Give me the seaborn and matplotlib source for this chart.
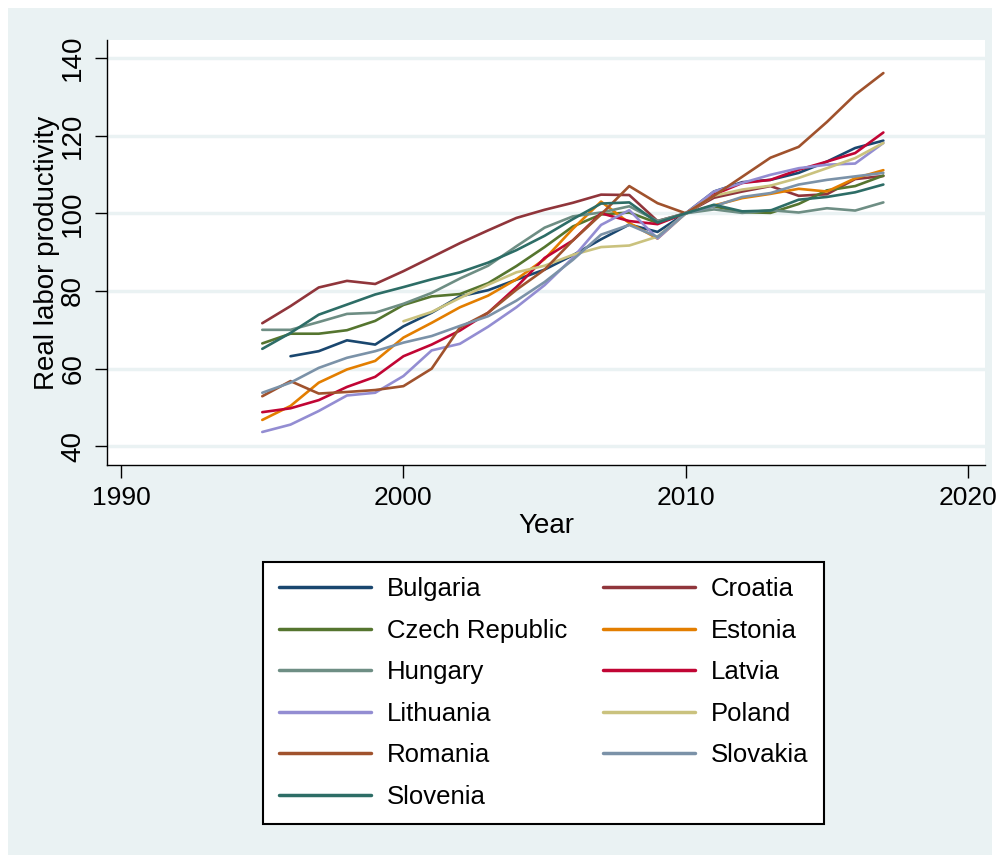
import numpy as np
import pandas as pd
import seaborn as sns
import matplotlib.pyplot as plt
from matplotlib.patches import Rectangle

nan = np.nan
years = list(range(1995, 2018))

bulgaria = [nan, 63.2, 64.5, 67.3, 66.2, 70.9, 74.4, 78.6, 80.2, 82.9, 85.5, 89.2,
            93.3, 97.1, 95.2, 100, 105.6, 108.0, 108.6, 110.4, 113.3, 116.8, 118.7]
croatia = [71.7, 76.1, 80.9, 82.6, 81.8, 85.1, 88.7, 92.3, 95.6, 98.8, 100.9, 102.7,
           104.8, 104.7, 98.0, 100, 104.0, 105.6, 107.0, 104.5, 104.9, 108.8, 109.6]
czech = [66.5, 69.0, 69.0, 69.9, 72.3, 76.4, 78.6, 79.2, 82.0, 86.4, 91.3, 96.6,
         99.7, 100.2, 97.5, 100, 101.8, 100.3, 100.1, 102.4, 105.9, 107.0, 109.7]
estonia = [46.8, 50.4, 56.4, 59.8, 62.0, 68.0, 71.8, 75.8, 78.8, 83.0, 88.2, 96.0,
           103.0, 97.5, 93.5, 100, 102.0, 103.9, 105.0, 106.3, 105.6, 109.0, 111.1]
hungary = [70.0, 70.0, 72.0, 74.1, 74.4, 76.7, 79.5, 83.2, 86.5, 91.5, 96.3, 99.2,
           100.2, 101.8, 98.0, 100, 101.0, 100.1, 100.8, 100.2, 101.3, 100.7, 102.8]
latvia = [48.8, 49.8, 51.9, 55.3, 57.9, 63.2, 66.2, 69.8, 74.4, 81.0, 88.5, 93.0,
          100.0, 98.0, 97.2, 100, 104.8, 107.8, 108.6, 111.2, 113.3, 115.5, 120.8]
lithuania = [43.7, 45.6, 49.1, 53.1, 53.8, 58.1, 64.7, 66.4, 70.8, 75.8, 81.5, 88.5,
             97.0, 100.8, 93.5, 100, 105.6, 107.8, 109.9, 111.6, 112.5, 112.8, 118.1]
poland = [nan, nan, nan, nan, nan, 72.2, 74.6, 78.2, 81.6, 84.8, 86.5, 89.3,
          91.3, 91.7, 94.0, 100, 104.5, 106.1, 107.1, 109.1, 111.6, 114.2, 118.1]
romania = [52.9, 56.8, 53.6, 54.0, 54.5, 55.5, 60.0, 70.6, 74.4, 80.3, 85.5, 93.0,
           99.7, 107.0, 102.6, 100, 104.5, 109.4, 114.3, 117.1, 123.5, 130.5, 136.1]
slovakia = [53.8, 56.4, 60.2, 62.8, 64.5, 66.7, 68.4, 71.0, 73.5, 77.5, 82.3, 88.0,
            94.5, 97.0, 93.9, 100, 101.8, 104.2, 105.2, 107.4, 108.6, 109.5, 110.4]
slovenia = [65.1, 69.2, 73.9, 76.5, 79.1, 81.0, 83.0, 84.8, 87.3, 90.5, 94.2, 98.5,
            102.5, 102.8, 97.6, 100, 102.2, 100.5, 100.7, 103.5, 104.2, 105.4, 107.4]

countries = ["Bulgaria", "Croatia", "Czech Republic", "Estonia", "Hungary", "Latvia",
             "Lithuania", "Poland", "Romania", "Slovakia", "Slovenia"]
series = [bulgaria, croatia, czech, estonia, hungary, latvia,
          lithuania, poland, romania, slovakia, slovenia]
colors = ["#1a476f", "#90353b", "#55752f", "#e37e00", "#6e8e84", "#c10534",
          "#938dd2", "#cac27e", "#a0522d", "#7b92a8", "#2d6d66"]

BG = "#eaf2f3"

sns.set_style("ticks")
plt.rcParams['font.family'] = ['Liberation Sans', 'DejaVu Sans']
plt.rcParams['text.color'] = 'black'
plt.rcParams['axes.labelcolor'] = 'black'
plt.rcParams['xtick.color'] = 'black'
plt.rcParams['ytick.color'] = 'black'

frames = []
for name, vals in zip(countries, series):
    frames.append(pd.DataFrame({"Year": years, "value": vals, "country": name}))
df = pd.concat(frames, ignore_index=True).dropna()

fig = plt.figure(figsize=(10, 8.57), dpi=100, facecolor="white")
fig.patches.append(Rectangle((0.008, 0.002), 0.984, 0.989, transform=fig.transFigure,
                             facecolor=BG, edgecolor="none", zorder=-10))
ax = fig.add_axes([0.107, 0.4574, 0.878, 0.4959])
ax.set_facecolor("white")

sns.lineplot(data=df, x="Year", y="value", hue="country", hue_order=countries,
             palette=dict(zip(countries, colors)), linewidth=1.9, ax=ax)

ax.set_xlim(1989.5, 2020.6)
ax.set_ylim(35.2, 144.6)
ax.set_xticks([1990, 2000, 2010, 2020])
ax.set_yticks(range(40, 141, 20))
ax.grid(axis="y", color=BG, linewidth=2.5)
ax.grid(axis="x", visible=False)
ax.set_axisbelow(True)
for s in ["top", "right"]:
    ax.spines[s].set_visible(False)
for s in ["left", "bottom"]:
    ax.spines[s].set_color("black")
    ax.spines[s].set_linewidth(1.0)

ax.tick_params(axis="x", length=9, width=1, pad=6, labelsize=19)
ax.tick_params(axis="y", length=9, width=1, pad=6, labelsize=20, labelrotation=90)
for lab in ax.get_yticklabels():
    lab.set_verticalalignment("center")

ax.set_xlabel("Year", fontsize=20, labelpad=2)
ax.set_ylabel("Real labor productivity", fontsize=20, labelpad=0)

handles, labels = ax.get_legend_handles_labels()
ax.get_legend().remove()
order = [0, 2, 4, 6, 8, 10, 1, 3, 5, 7, 9]
leg = fig.legend([handles[i] for i in order], [labels[i] for i in order],
                 ncol=2, loc="upper center", bbox_to_anchor=(0.5435, 1 - 562 / 857),
                 fontsize=18.5, frameon=True, fancybox=False, edgecolor="black",
                 facecolor="white", framealpha=1, borderaxespad=0,
                 handlelength=3.6, handletextpad=0.6, columnspacing=1.4,
                 labelspacing=0.68, borderpad=0.6)
leg.get_frame().set_linewidth(1.5)
for line in leg.get_lines():
    line.set_linewidth(2.5)

fig.savefig("out.png", dpi=100, facecolor=fig.get_facecolor())
